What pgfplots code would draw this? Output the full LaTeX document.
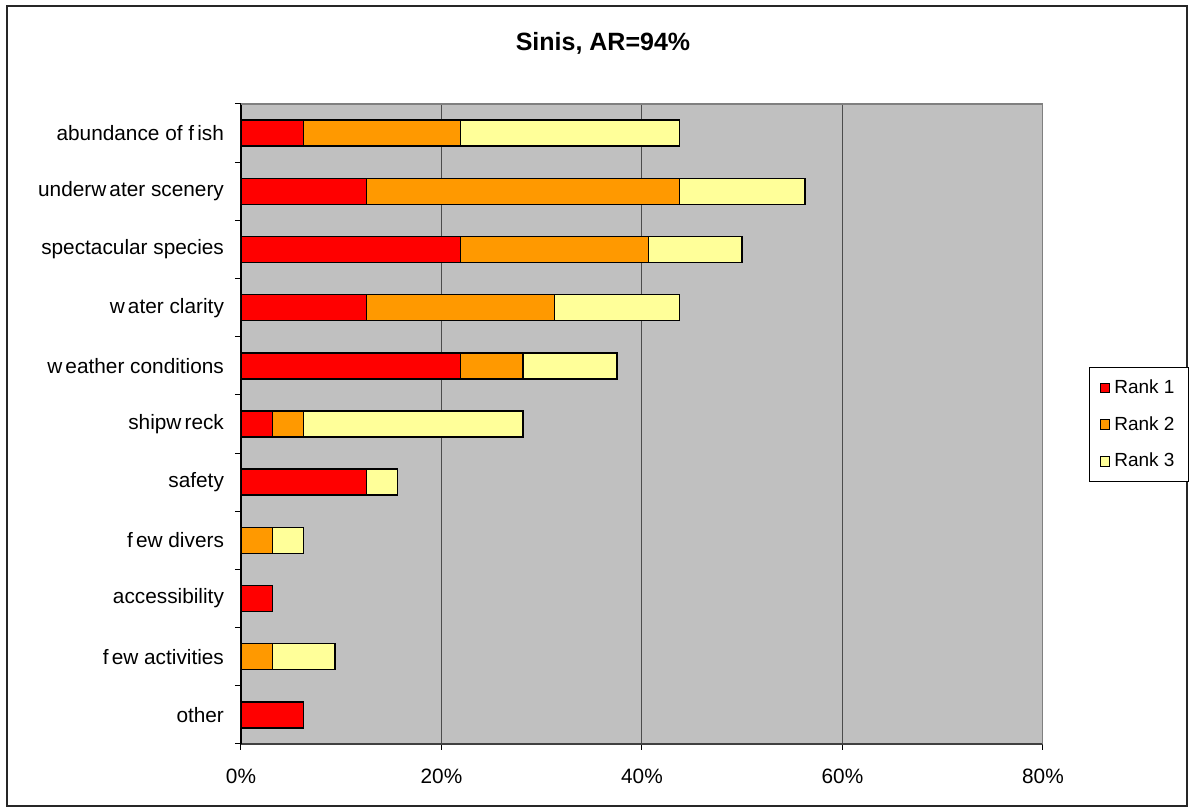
\documentclass[border=0pt]{standalone}
\usepackage{fontspec}
\setmainfont{Liberation Sans}
\usepackage{pgfplots}
\pgfplotsset{compat=1.18}
\definecolor{rone}{HTML}{FF0000}
\definecolor{rtwo}{HTML}{FF9900}
\definecolor{rthree}{HTML}{FFFF99}
\definecolor{plotbg}{HTML}{C0C0C0}
\begin{document}
\begin{tikzpicture}
\useasboundingbox (0,0) rectangle (595.5pt,406pt);
\fill[white] (0,0) rectangle (595.5pt,406pt);
\draw[line width=0.9pt, draw=black!85] (3.5pt,3pt) rectangle (593.5pt,403pt);
\node[font=\fontsize{12.5}{15}\selectfont\bfseries] at (301.5pt,384.5pt) {Sinis, AR=94\%};
\begin{axis}[
  at={(120.5pt,34pt)}, anchor=south west,
  scale only axis, width=401pt, height=320pt,
  xbar stacked, bar width=13pt,
  xmin=0, xmax=80, ymin=-0.5, ymax=10.5, y dir=reverse,
  axis background/.style={fill=plotbg},
  axis x line*=bottom, axis y line*=left,
  x axis line style={draw=black!75, line width=1pt},
  y axis line style={draw=black, line width=0.6pt},
  tick align=outside, major tick length=3pt,
  tick style={draw=black, line width=0.5pt},
  xtick={0,20,40,60,80},
  xticklabels={0\%,20\%,40\%,60\%,80\%},
  xticklabel style={font=\fontsize{10.4}{12}\selectfont, yshift=-6pt},
  xmajorgrids, major grid style={draw=black!70, line width=0.5pt},
  ytick={-0.5,0.5,...,10.5}, yticklabels={},
  extra y ticks={0,1,2,3,4,5,6,7,8,9,10},
  extra y tick labels={{abundance of f\kern0.15em ish}, {underw\kern0.15em ater scenery}, {spectacular species}, {w\kern0.15em ater clarity}, {w\kern0.15em eather conditions}, {shipw\kern0.15em reck}, {safety}, {f\kern0.15em ew divers}, {accessibility}, {f\kern0.15em ew activities}, {other}},
  extra y tick style={major tick length=0pt, tick style={draw=none}, yticklabel style={font=\fontsize{10.4}{12}\selectfont, xshift=-5pt}},
  legend style={at={(1.0574,0.589)}, anchor=north west, draw=black, line width=0.5pt, fill=white,
    font=\fontsize{9.5}{11}\selectfont, inner xsep=5pt, inner ysep=4pt, row sep=6pt},
  legend cell align=left,
  legend image code/.code={\draw[#1, draw=black, line width=0.6pt] (0pt,-2.4pt) rectangle (4.8pt,2.4pt);},
  every axis plot/.append style={draw=black, line width=0.75pt},
]
\addplot[fill=rone] coordinates {(6.25,0) (12.5,1) (21.875,2) (12.5,3) (21.875,4) (3.125,5) (12.5,6) (0,7) (3.125,8) (0,9) (6.25,10)};
\addplot[fill=rtwo] coordinates {(15.625,0) (31.25,1) (18.75,2) (18.75,3) (6.25,4) (3.125,5) (0,6) (3.125,7) (0,8) (3.125,9) (0,10)};
\addplot[fill=rthree] coordinates {(21.875,0) (12.5,1) (9.375,2) (12.5,3) (9.375,4) (21.875,5) (3.125,6) (3.125,7) (0,8) (6.25,9) (0,10)};
\legend{Rank 1, Rank 2, Rank 3}
\draw[draw=black!50, line width=0.9pt] (rel axis cs:0,1) -- (rel axis cs:1,1) -- (rel axis cs:1,0);
\end{axis}
\end{tikzpicture}
\end{document}
